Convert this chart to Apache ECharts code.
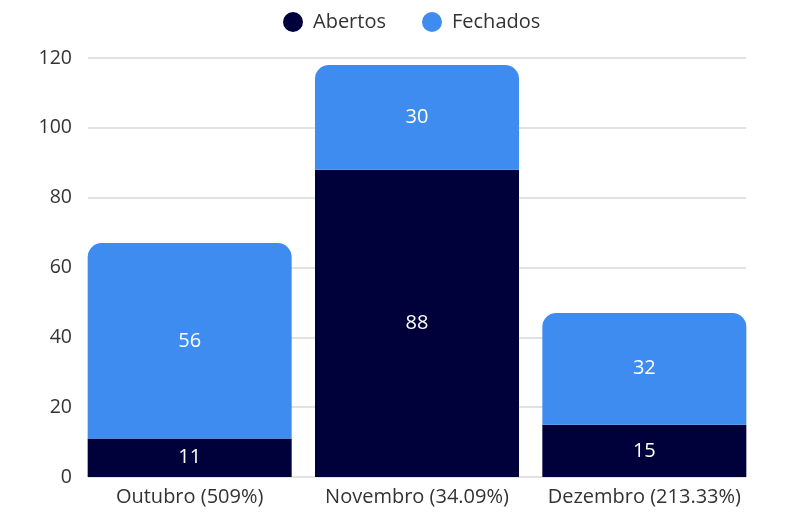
<!DOCTYPE html>
<html>
<head>
<meta charset="utf-8">
<script src="https://cdn.jsdelivr.net/npm/echarts@6/dist/echarts.min.js"></script>
<style>
html,body{margin:0;padding:0;background:#fff;}
#c{width:788px;height:512px;}
</style>
</head>
<body>
<div id="c"></div>
<script>
var categories = ['Outubro (509%)', 'Novembro (34.09%)', 'Dezembro (213.33%)'];
var abertos = [11, 88, 15];
var fechados = [56, 30, 32];
var yTicks = [0, 20, 40, 60, 80, 100, 120];

var FONT = '"Open Sans", "Noto Sans", sans-serif';
var chart = echarts.init(document.getElementById('c'), null, {renderer: 'canvas'});
chart.setOption({
  animation: false,
  textStyle: {fontFamily: FONT},
  legend: {
    top: 7,
    left: 278,
    icon: 'circle',
    itemWidth: 20,
    itemHeight: 20,
    itemGap: 36,
    textStyle: {fontSize: 20, color: '#333', fontFamily: FONT, padding: [0, 0, 0, 5]},
    data: ['Abertos', 'Fechados']
  },
  grid: [
    {left: 88, right: 42, top: 58, bottom: 35},
    {left: 76, right: 30, top: 58, bottom: 35}
  ],
  xAxis: [
    {type: 'category', gridIndex: 0, data: categories, show: false},
    {type: 'category', gridIndex: 1, data: categories,
     axisLine: {show: false}, axisTick: {show: false},
     axisLabel: {fontSize: 20, color: '#333', fontFamily: FONT, margin: 10, interval: 0}}
  ],
  yAxis: [
    {type: 'value', gridIndex: 0, min: yTicks[0], max: yTicks[yTicks.length - 1], interval: 20,
     axisLine: {show: false}, axisTick: {show: false},
     axisLabel: {fontSize: 19.5, color: '#333', fontFamily: FONT, margin: 16},
     splitLine: {lineStyle: {color: '#d9d9d9', width: 1.5}}},
    {type: 'value', gridIndex: 1, min: yTicks[0], max: yTicks[yTicks.length - 1], interval: 20, show: false,
     splitLine: {show: false}}
  ],
  series: [
    {name: 'Abertos', type: 'bar', stack: 's', xAxisIndex: 1, yAxisIndex: 1,
     data: abertos, barWidth: 204,
     itemStyle: {color: '#00003a'},
     label: {show: true, position: 'inside', color: '#fff', fontSize: 20, fontFamily: FONT}},
    {name: 'Fechados', type: 'bar', stack: 's', xAxisIndex: 1, yAxisIndex: 1,
     data: fechados, barWidth: 204,
     itemStyle: {color: '#3e8cef', borderRadius: [14, 14, 0, 0]},
     label: {show: true, position: 'inside', color: '#fff', fontSize: 20, fontFamily: FONT}}
  ]
});
</script>
</body>
</html>
